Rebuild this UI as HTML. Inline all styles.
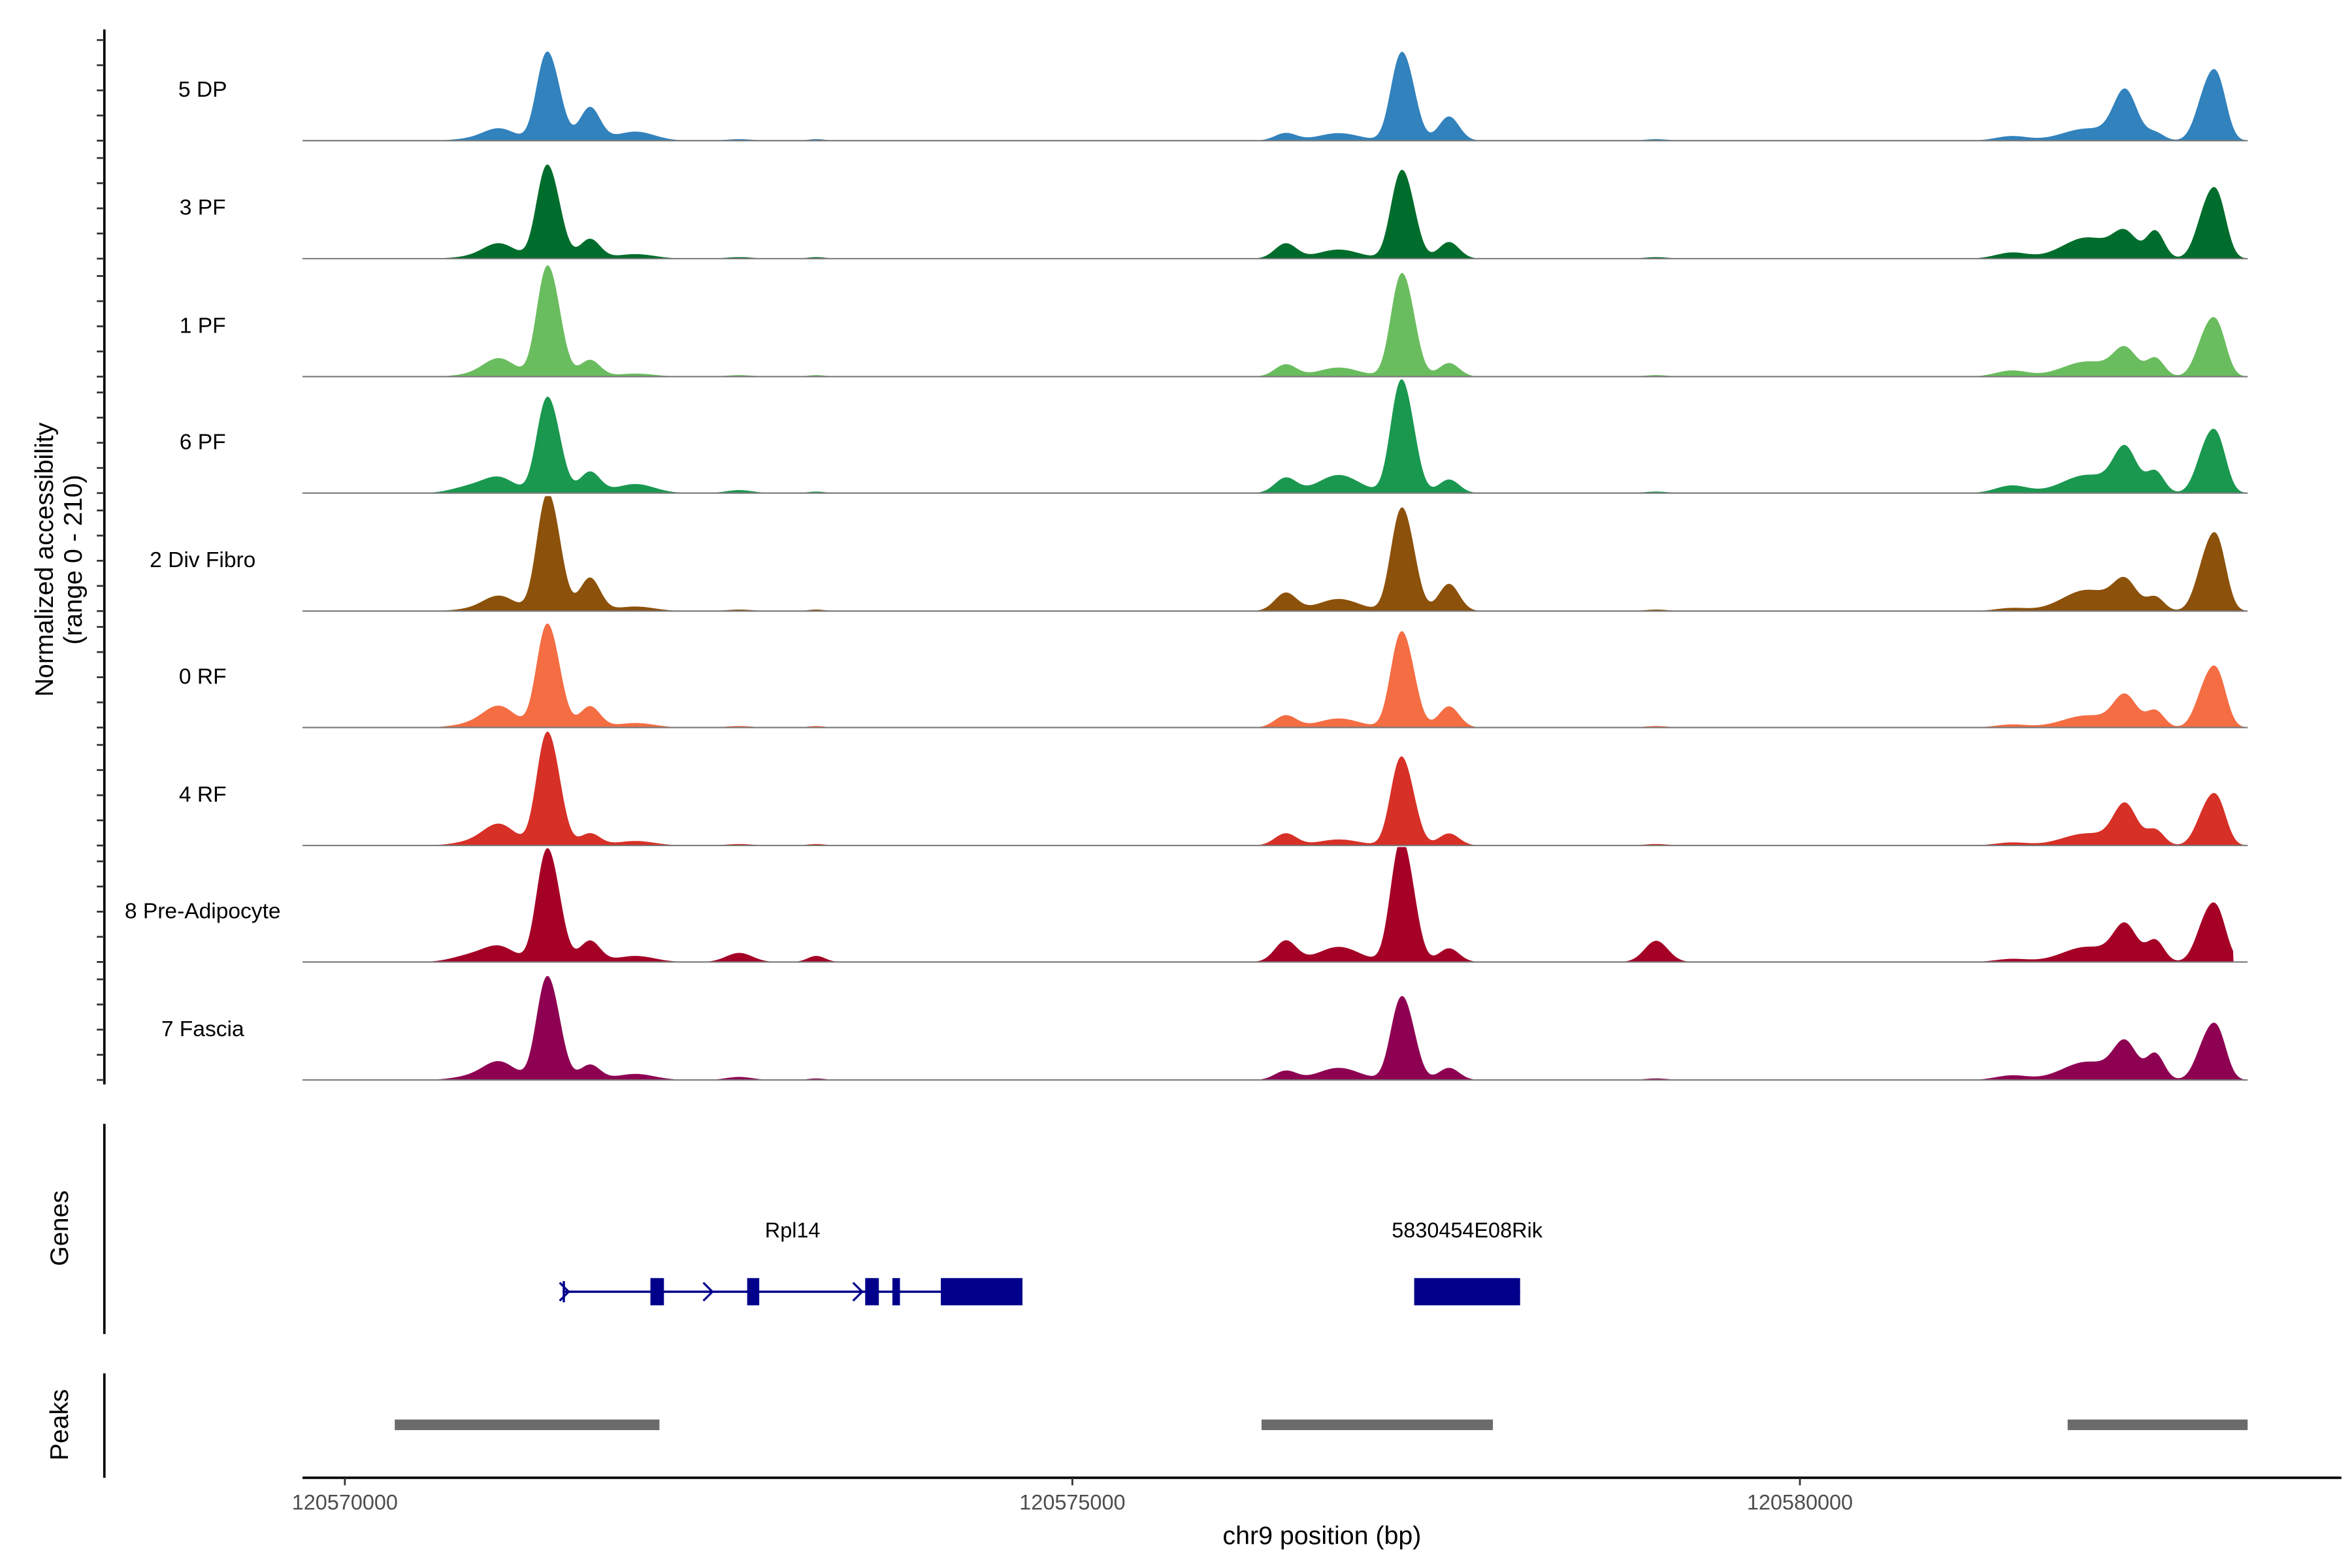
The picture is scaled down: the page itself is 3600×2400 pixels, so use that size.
<!DOCTYPE html>
<html><head><meta charset="utf-8"><style>
html,body{margin:0;padding:0;background:#fff}
svg{display:block}
text{font-family:"Liberation Sans",Arial,sans-serif}
</style></head><body>
<svg id="chart" xmlns="http://www.w3.org/2000/svg" width="3600" height="2400" viewBox="0 0 1555 1036.67">
<rect width="1555" height="1037" fill="#fff"/>
<g id="tracks"></g>
<line x1="69" y1="19.5" x2="69" y2="717" stroke="#000" stroke-width="1.6"/>
<g id="yticks"></g>
<g font-size="17" fill="#000" text-anchor="middle">
<text transform="translate(35,370) rotate(-90)">Normalized accessibility</text>
<text transform="translate(54,370) rotate(-90)">(range 0 - 210)</text>
</g>
<g>
<line x1="69" y1="743" x2="69" y2="882" stroke="#000" stroke-width="1.6"/>
<text transform="translate(45,812) rotate(-90)" font-size="17" text-anchor="middle">Genes</text>
<g id="genes"></g>
</g>
<g>
<line x1="69" y1="908" x2="69" y2="977" stroke="#000" stroke-width="1.6"/>
<text transform="translate(45,942) rotate(-90)" font-size="17" text-anchor="middle">Peaks</text>
<g id="peaks"></g>
</g>
<g id="xaxis">
<line x1="200" y1="977" x2="1548" y2="977" stroke="#000" stroke-width="1.6"/>
</g>
<text x="874" y="1021" font-size="17" text-anchor="middle">chr9 position (bp)</text>
</svg>
<script>
const NS="http://www.w3.org/2000/svg";
const trackNames=["5 DP","3 PF","1 PF","6 PF","2 Div Fibro","0 RF","4 RF","8 Pre-Adipocyte","7 Fascia"];
const trackColors=["#3182bd","#006d2c","#6abd5e","#1a9850","#8c510a","#f46d43","#d73027","#a50026","#8e0152"];
const peakCenters=[120570852,120571060,120571360,120571440,120571684,120571996,120572710,120573240,120576466,120576830,120577230,120577310,120577588,120579012,120581456,120581975,120582236,120582443,120582790,120582880];
const peakWidths=[120,110,60,65,70,130,90,60,75,140,60,65,70,80,110,170,80,60,70,60];
const h5DP=[1,8,38,34,22,6,1,1,5,5,36,36,16,1,3,8,32,5,30,30];
const h3PF=[1,10,40,36,13,3,1,1,10,6,36,36,11,1,4,14,15,18,30,30];
const h1PF=[1,12,46,44,11,2,1,1,8,6,42,42,9,1,4,10,17,12,26,24];
const h6PF=[4,10,40,38,14,6,2,1,10,12,48,44,9,1,5,12,28,14,28,26];
const hDiv=[1,10,48,48,22,3,1,1,12,8,42,42,18,1,2,14,18,9,32,34];
const h0RF=[2,14,44,40,14,3,1,1,8,6,40,38,14,1,2,8,20,11,26,26];
const h4RF=[2,14,48,44,8,3,1,1,8,4,38,34,8,1,2,8,26,10,22,22];
const hPre=[4,10,48,44,14,4,6,4,14,10,52,48,9,14,2,10,23,14,26,24];
const hFas=[2,12,44,40,10,4,2,1,6,8,34,34,8,1,3,12,23,17,24,24];
const trackHeights=[h5DP,h3PF,h1PF,h6PF,hDiv,h0RF,h4RF,hPre,hFas];
const trackStart=[120570350,120570350,120570350,120570350,120570350,120570350,120570350,120570560,120570350];
const trackEnd=[120583080,120583080,120583080,120583080,120583060,120583080,120583080,120582980,120583080];
const xTicks=[120570000,120575000,120580000];
const geneNames=["Rpl14","5830454E08Rik"];
const geneStarts=[120571497,120577349];
const geneEnds=[120574657,120578077];
const exonStarts=[120571497,120572100,120572765,120573576,120573763,120574096,120577349];
const exonEnds=[120571510,120572193,120572848,120573670,120573815,120574657,120578077];
const peakRegionStarts=[120570343,120576300,120581840];
const peakRegionEnds=[120572162,120577890,120583077];

const X0=120569709, BPPX=5000/481;
const xs=bp=>200+(bp-X0)/BPPX;
const baselines=[93,171,249,326,404,481,559,636,714];
const tracks=document.getElementById('tracks');
trackNames.forEach((name,i)=>{
  const b=baselines[i];
  const hs=trackHeights[i];
  const x1=xs(trackStart[i]), x2=xs(trackEnd[i]);
  let d=`M${x1},${b}`;
  for(let x=x1;x<=x2;x+=0.5){
    const bp=X0+(x-200)*BPPX;
    let v=0;
    for(let k=0;k<peakCenters.length;k++){const z=(bp-peakCenters[k])/peakWidths[k];v+=hs[k]*Math.exp(-0.5*z*z);}
    d+=`L${x.toFixed(1)},${(b-Math.min(v,76)).toFixed(2)}`;
  }
  d+=`L${x2},${b}Z`;
  const p=document.createElementNS(NS,'path');
  p.setAttribute('d',d);p.setAttribute('fill',trackColors[i]);
  
  
  tracks.appendChild(p);
  const l=document.createElementNS(NS,'line');
  l.setAttribute('x1',200);l.setAttribute('x2',1486);l.setAttribute('y1',b);l.setAttribute('y2',b);
  l.setAttribute('stroke','#777');l.setAttribute('stroke-width','0.9');
  
  
  tracks.appendChild(l);
  const t=document.createElementNS(NS,'text');
  t.setAttribute('x',134);t.setAttribute('y',b-29);t.setAttribute('font-size','14.5');t.setAttribute('text-anchor','middle');
  t.textContent=name;
  
  
  tracks.appendChild(t);
});
const yt=document.getElementById('yticks');
baselines.forEach(b=>{for(let k=0;k<5;k++){
  const l=document.createElementNS(NS,'line');
  const y=b-k*16.63;
  l.setAttribute('x1',64);l.setAttribute('x2',69);l.setAttribute('y1',y);l.setAttribute('y2',y);
  l.setAttribute('stroke','#333');l.setAttribute('stroke-width','1.2');
  
  
  yt.appendChild(l);
}});
const xa=document.getElementById('xaxis');
xTicks.forEach(v=>{
  const x=xs(v);
  const l=document.createElementNS(NS,'line');
  l.setAttribute('x1',x);l.setAttribute('x2',x);l.setAttribute('y1',977);l.setAttribute('y2',982);
  l.setAttribute('stroke','#333');l.setAttribute('stroke-width','1.2');
  
  
  xa.appendChild(l);
  const t=document.createElementNS(NS,'text');
  t.setAttribute('x',x);t.setAttribute('y',998);t.setAttribute('font-size','14');t.setAttribute('fill','#4d4d4d');t.setAttribute('text-anchor','middle');
  t.textContent=String(v);
  
  
  xa.appendChild(t);
});
const g=document.getElementById('genes');
geneNames.forEach((n,i)=>{
  const l=document.createElementNS(NS,'line');
  l.setAttribute('x1',xs(geneStarts[i]));l.setAttribute('x2',xs(geneEnds[i]));l.setAttribute('y1',854);l.setAttribute('y2',854);
  l.setAttribute('stroke','#00008b');l.setAttribute('stroke-width','1.5');
  
  
  g.appendChild(l);
  const t=document.createElementNS(NS,'text');
  t.setAttribute('x',(xs(geneStarts[i])+xs(geneEnds[i]))/2);t.setAttribute('y',818);t.setAttribute('font-size','14');t.setAttribute('text-anchor','middle');
  t.textContent=n;
  
  
  g.appendChild(t);
});
exonStarts.forEach((s,i)=>{
  const r=document.createElementNS(NS,'rect');
  const x=xs(s);
  const w=xs(exonEnds[i])-x;
  r.setAttribute('x',x);r.setAttribute('width',Math.max(w,1.5));r.setAttribute('y',w<3?847:845);r.setAttribute('height',w<3?14:18);r.setAttribute('fill','#00008b');
  
  
  g.appendChild(r);
});
[374,469,568].forEach(x=>{
  const p=document.createElementNS(NS,'path');
  p.setAttribute('d',`M${x-4},848L${x+2},854L${x-4},860`);p.setAttribute('fill','none');p.setAttribute('stroke','#00008b');p.setAttribute('stroke-width','1.4');
  
  
  g.appendChild(p);
});
const pk=document.getElementById('peaks');
peakRegionStarts.forEach((s,i)=>{
  const r=document.createElementNS(NS,'rect');
  r.setAttribute('x',xs(s));r.setAttribute('width',xs(peakRegionEnds[i])-xs(s));r.setAttribute('y',938.5);r.setAttribute('height',7);r.setAttribute('fill','#6b6b6b');
  
  
  pk.appendChild(r);
});
</script>
</body></html>
